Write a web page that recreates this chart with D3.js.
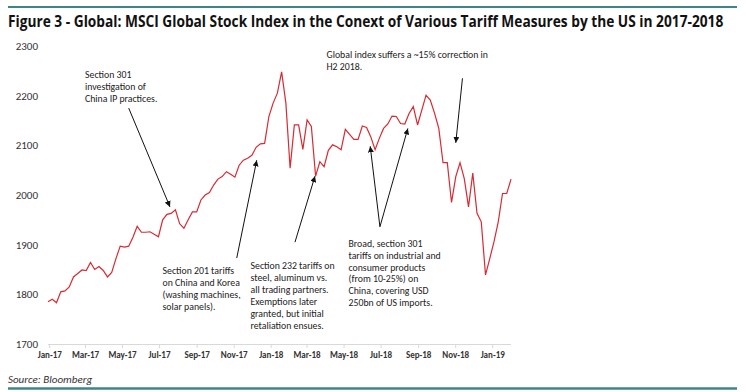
<!DOCTYPE html>
<html><head><meta charset="utf-8">
<script src="https://cdn.jsdelivr.net/npm/d3@7"></script>
<style>
html,body{margin:0;padding:0;background:#fff;}
svg{display:block;}
</style></head>
<body>
<script>
// ---- data ----
const startDate = "2016-12-30";   // first weekly observation
const endDate = "2019-02-01";     // last weekly observation
const values = [
 1785,1790,1783,1805,1807,1815,1835,1842,1849,1848,
 1864,1850,1856,1848,1835,1844,1872,1897,1895,1897,
 1915,1937,1925,1925,1926,1921,1916,1950,1961,1963,
 1970,1942,1933,1950,1966,1966,1990,2000,2005,2020,
 2032,2037,2047,2042,2036,2060,2070,2074,2080,2096,
 2103,2104,2158,2185,2205,2248,2185,2054,2141,2141,
 2092,2151,2138,2038,2067,2057,2090,2101,2097,2091,
 2132,2122,2112,2112,2139,2136,2117,2091,2114,2134,
 2143,2159,2158,2144,2143,2164,2178,2141,2171,2201,
 2191,2165,2134,2065,2065,1985,2037,2065,2033,1976,
 2044,1963,1946,1839,1872,1906,1946,2003,2003,2032
];
const yTicks = [1700,1800,1900,2000,2100,2200,2300];
const xTickLabels = ["Jan-17","Mar-17","May-17","Jul-17","Sep-17","Nov-17","Jan-18","Mar-18","May-18","Jul-18","Sep-18","Nov-18","Jan-19"];
const xTickDates = ["2017-01-01","2017-03-01","2017-05-01","2017-07-01","2017-09-01","2017-11-01","2018-01-01","2018-03-01","2018-05-01","2018-07-01","2018-09-01","2018-11-01","2019-01-01"];
const titleText = "Figure 3 - Global: MSCI Global Stock Index in the Conext of Various Tariff Measures by the US in 2017-2018";
const sourceText = "Source: Bloomberg";

// annotation texts (layout in px) and arrows (anchored in data space)
const notes = [
 {x:85,  y:75,  lines:["Section 301","investigation of","China IP practices."]},
 {x:162.5,y:271, lines:["Section 201 tariffs","on China and Korea","(washing machines,","solar panels)."]},
 {x:250.5,y:266, lines:["Section 232 tariffs on","steel, aluminum vs.","all trading partners.","Exemptions later","granted, but initial","retaliation ensues."]},
 {x:348.5,y:243.3,lines:["Broad, section 301","tariffs on industrial and","consumer products","(from 10-25%) on","China, covering USD","250bn of US imports."]},
 {x:326.5,y:55,  lines:["Global index suffers a ~15% correction in","H2 2018."]}
];
const arrows = [
 {from:["2017-05-12",2175], to:["2017-07-19",1976]},
 {from:["2017-11-06",1873], to:["2017-12-09",2070]},
 {from:["2018-02-10",1905], to:["2018-03-15",2038]},
 {from:["2018-06-30",1936], to:["2018-06-14",2098]},
 {from:["2018-06-30",1936], to:["2018-08-15",2134]},
 {from:["2018-11-13",2235], to:["2018-11-02",2105]}
];

// ---- chart ----
const W = 746, H = 392;
const parse = d3.utcParse("%Y-%m-%d");
const t0 = parse(startDate);
const dates = values.map((v,i)=>d3.utcDay.offset(t0, 7*i));
const data = values.map((v,i)=>({date:dates[i], value:v}));

const svg = d3.select("body").append("svg").attr("width",W).attr("height",H);
svg.append("rect").attr("width",W).attr("height",H).attr("fill","#fff");

const x = d3.scaleUtc().domain([t0, parse(endDate)]).range([48, 511]);
const y = d3.scaleLinear().domain([1700,2300]).range([344, 46]);

const font = "Carlito, Lato, 'Liberation Sans', sans-serif";

// frame lines
svg.append("line").attr("x1",8).attr("x2",737).attr("y1",7).attr("y2",7)
  .attr("stroke","#3f8587").attr("stroke-width",2);
svg.append("line").attr("x1",8).attr("x2",737).attr("y1",388.5).attr("y2",388.5)
  .attr("stroke","#3f8587").attr("stroke-width",2.5);

// title: condensed horizontally to the reference width
const title = svg.append("text").attr("x",0).attr("y",0)
  .attr("font-family","'Open Sans', sans-serif").attr("font-weight","bold")
  .attr("font-size",15.5).attr("fill","#111")
  .text(titleText);
const tw = title.node().getComputedTextLength();
title.attr("transform",`translate(8,27) scale(${716/tw},1)`);

// y axis labels (no axis line)
const yAxis = d3.axisLeft(y).tickValues(yTicks).tickSize(0).tickPadding(10).tickFormat(d3.format("d"));
const gy = svg.append("g").attr("transform","translate(48,0)").call(yAxis);
gy.select(".domain").remove();
gy.selectAll("text").attr("font-family",font).attr("font-size",11).attr("fill","#333");

// x axis
const xAxis = d3.axisBottom(x).tickValues(xTickDates.map(parse)).tickSize(4).tickPadding(4)
  .tickFormat((d,i)=>xTickLabels[i]);
const gx = svg.append("g").attr("transform","translate(0,344)").call(xAxis);
gx.select(".domain").attr("stroke","#d9d9d9").attr("d","M48,0.5H511");
gx.selectAll(".tick line").attr("stroke","#d9d9d9");
gx.selectAll("text").attr("font-family",font).attr("font-weight","bold")
  .attr("font-size",9).attr("fill","#333");

// line
svg.append("path").datum(data)
  .attr("fill","none").attr("stroke","#d82a32").attr("stroke-width",1.2)
  .attr("stroke-linejoin","miter")
  .attr("d", d3.line().x(d=>x(d.date)).y(d=>y(d.value)));

// arrows
svg.append("defs").append("marker").attr("id","ah")
  .attr("viewBox","0 0 10 10").attr("refX",10).attr("refY",5)
  .attr("markerWidth",6).attr("markerHeight",6).attr("markerUnits","userSpaceOnUse")
  .attr("orient","auto")
  .append("path").attr("d","M0,0L10,5L0,10z").attr("fill","#111");
svg.selectAll(".arrow").data(arrows).join("line").attr("class","arrow")
  .attr("x1",d=>x(parse(d.from[0]))).attr("y1",d=>y(d.from[1]))
  .attr("x2",d=>x(parse(d.to[0]))).attr("y2",d=>y(d.to[1]))
  .attr("stroke","#111").attr("stroke-width",1).attr("marker-end","url(#ah)");

// notes
const nfs = 9.8;
notes.forEach(n=>{
  const t = svg.append("text").attr("font-family",font).attr("font-size",nfs).attr("fill","#222");
  n.lines.forEach((l,i)=>{
    t.append("tspan").attr("x",n.x).attr("y",n.y + i*11.9).attr("dy","0.35em").text(l);
  });
});

// source
svg.append("text").attr("x",8).attr("y",379).attr("dy","0.35em")
  .attr("font-family",font).attr("font-style","italic").attr("font-size",11).attr("fill","#333")
  .text(sourceText);
</script>
</body></html>
